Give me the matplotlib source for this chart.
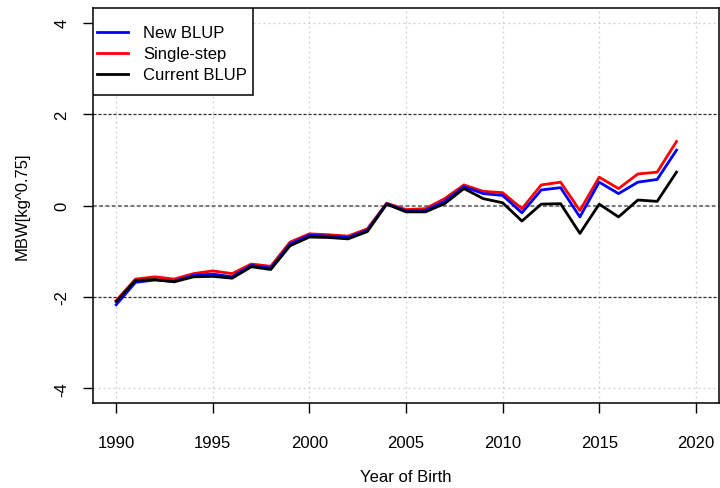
import matplotlib
matplotlib.use("Agg")
import matplotlib.pyplot as plt
from matplotlib.patches import Rectangle

plt.rcParams["font.family"] = ["Liberation Sans", "DejaVu Sans"]

# Year of birth and mean breeding values (MBW, kg^0.75)
years = list(range(1990, 2020))
new_blup = [-2.17, -1.68, -1.63, -1.66, -1.53, -1.50, -1.56, -1.31, -1.37, -0.84,
            -0.65, -0.67, -0.70, -0.54, 0.04, -0.12, -0.11, 0.09, 0.41, 0.26,
            0.22, -0.16, 0.34, 0.39, -0.25, 0.51, 0.26, 0.51, 0.57, 1.21]
single_step = [-2.08, -1.61, -1.56, -1.61, -1.49, -1.43, -1.49, -1.28, -1.33, -0.80,
               -0.62, -0.64, -0.67, -0.51, 0.05, -0.09, -0.07, 0.15, 0.45, 0.31,
               0.28, -0.07, 0.45, 0.51, -0.11, 0.62, 0.37, 0.69, 0.73, 1.40]
current_blup = [-2.10, -1.64, -1.62, -1.67, -1.56, -1.55, -1.59, -1.34, -1.40, -0.88,
                -0.69, -0.70, -0.73, -0.57, 0.03, -0.14, -0.14, 0.04, 0.37, 0.15,
                0.06, -0.34, 0.03, 0.04, -0.61, 0.03, -0.25, 0.12, 0.09, 0.73]

x_ticks = [1990, 1995, 2000, 2005, 2010, 2015, 2020]
y_ticks = [-4, -2, 0, 2, 4]


def main() -> None:
    fig = plt.figure(figsize=(7.2, 4.89), dpi=100)
    ax = fig.add_axes([93 / 720, 85 / 489, 626 / 720, 395 / 489])

    # light dotted grid, like R's grid()
    for xv in x_ticks:
        ax.axvline(xv, color="#cfcfcf", lw=0.9, ls=(0, (1.5, 2.5)), zorder=1)
    for yv in y_ticks:
        ax.axhline(yv, color="#cfcfcf", lw=0.9, ls=(0, (1.5, 2.5)), zorder=1)
    # reference lines
    ax.axhline(0, color="#7a7a7a", lw=1.5, ls=(0, (1.8, 1.2)), zorder=2)
    for yv in (2, -2):
        ax.axhline(yv, color="#333333", lw=0.9, ls=(0, (2.5, 1.5)), zorder=2)

    ax.plot(years, single_step, color="red", lw=2, label="Single-step", zorder=3)
    ax.plot(years, new_blup, color="blue", lw=2, label="New BLUP", zorder=4)
    ax.plot(years, current_blup, color="black", lw=2, label="Current BLUP", zorder=5)

    ax.set_xlim(1988.8, 2021.2)
    ax.set_ylim(-4.32, 4.32)
    ax.set_xticks(x_ticks)
    ax.set_xticklabels([str(v) for v in x_ticks], fontsize=12)
    ax.set_yticks(y_ticks)
    ax.set_yticklabels([str(v) for v in y_ticks], fontsize=12, rotation=90, va="center")
    ax.tick_params(axis="x", length=7, width=1, pad=16)
    ax.tick_params(axis="y", length=7, width=1, pad=10)
    for sp in ax.spines.values():
        sp.set_linewidth(1.1)
        sp.set_color("black")

    ax.set_xlabel("Year of Birth", fontsize=12, labelpad=14)
    ax.set_ylabel("MBW[kg^0.75]", fontsize=12, labelpad=18)

    # legend box drawn like R's legend("topleft")
    box = Rectangle((0, 0.78), 160 / 626, 0.22, transform=ax.transAxes,
                    facecolor="white", edgecolor="black", lw=1.1, zorder=9)
    ax.add_patch(box)
    h, l = ax.get_legend_handles_labels()
    order = [1, 0, 2]
    leg = ax.legend([h[i] for i in order], [l[i] for i in order],
                    loc="upper left", bbox_to_anchor=(4 / 626, 0.956), fontsize=12,
                    frameon=False, borderaxespad=0, borderpad=0,
                    handlelength=1.85, handletextpad=0.9, labelspacing=0.36)
    leg.set_zorder(10)

    fig.savefig("out.png", dpi=100)
    plt.close(fig)


if __name__ == "__main__":
    main()
